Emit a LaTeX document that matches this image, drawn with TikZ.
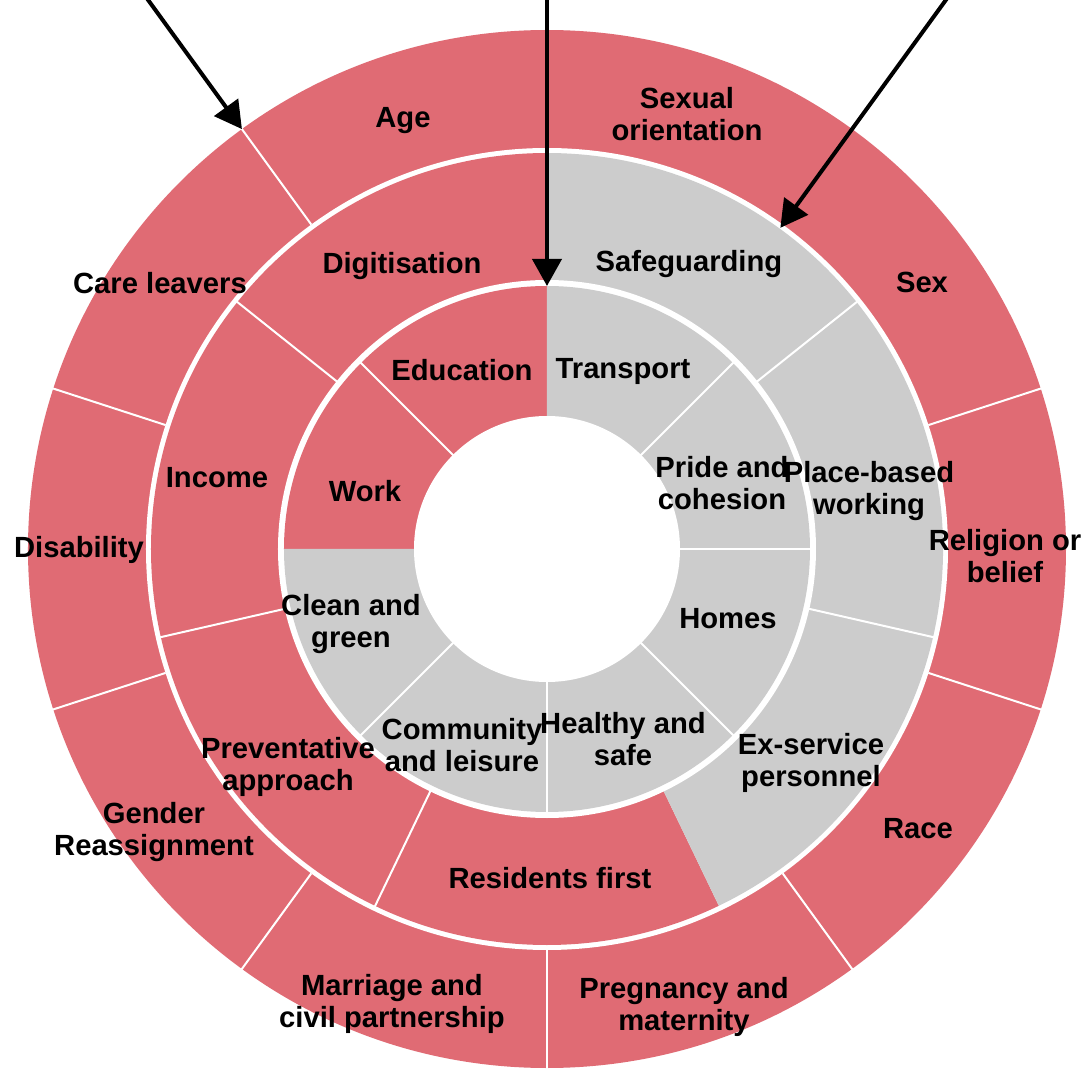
\documentclass[tikz,border=0pt]{standalone}
\usepackage{fontspec}
\setmainfont{Liberation Sans}
\usetikzlibrary{arrows.meta}
\definecolor{segred}{RGB}{224,107,116}
\definecolor{seggray}{RGB}{204,204,204}
\tikzset{
  lbl/.style={align=center, inner sep=0pt, font=\fontsize{29.2}{31.3}\selectfont\bfseries, text=black},
  divider/.style={white, line width=2pt},
  gapring/.style={fill=white},
  pointer/.style={black, line width=4pt, -{Triangle[length=27pt,width=29pt]}}
}
\begin{document}
\begin{tikzpicture}[x=1pt,y=1pt]
\useasboundingbox[fill=white] (-547pt,-527pt) rectangle (543pt,549pt);
% outer ring
\fill[segred] (0,0) circle[radius=519pt];
\fill[gapring] (0,0) circle[radius=401pt];
% middle ring
\fill[segred] (0,0) -- (90:396pt) arc[start angle=90,end angle=295.714,radius=396pt] -- cycle;
\fill[seggray] (0,0) -- (-64.286:396pt) arc[start angle=-64.286,end angle=90,radius=396pt] -- cycle;
\fill[gapring] (0,0) circle[radius=269pt];
% inner ring
\fill[segred] (0,0) -- (90:263pt) arc[start angle=90,end angle=180,radius=263pt] -- cycle;
\fill[seggray] (0,0) -- (180:263pt) arc[start angle=180,end angle=450,radius=263pt] -- cycle;
\fill[gapring] (0,0) circle[radius=133pt];
% dividers outer
\foreach \a in {18,54,90,126,162,198,234,270,306,342}
  \draw[divider] (\a:401pt) -- (\a:520pt);
% dividers middle
\foreach \a in {38.571,-12.857,244.286,192.857,141.429}
  \draw[divider] (\a:268pt) -- (\a:397pt);
% dividers inner
\foreach \a in {45,0,315,270,225,135}
  \draw[divider] (\a:132pt) -- (\a:264pt);
% labels outer
\node[lbl] (age) at (-144pt,428pt) {Age};
\node[lbl] (sexor) at (140pt,435pt) {Sexual\\orientation};
\node[lbl] (sex) at (375pt,267pt) {Sex};
\node[lbl] (relig) at (458pt,-7pt) {Religion or\\belief};
\node[lbl] (race) at (371pt,-280pt) {Race};
\node[lbl] (preg) at (137pt,-458pt) {Pregnancy and\\maternity};
\node[lbl] (marr) at (-155pt,-455pt) {Marriage and\\civil partnership};
\node[lbl] (gender) at (-393pt,-283pt) {Gender\\Reassignment};
\node[lbl] (disab) at (-468pt,-1pt) {Disability};
\node[lbl] (care) at (-387pt,266pt) {Care leavers};
% labels middle
\node[lbl] (digit) at (-145pt,283pt) {Digitisation};
\node[lbl] (safe) at (142pt,285pt) {Safeguarding};
\node[lbl] (place) at (322pt,58pt) {Place-based\\working};
\node[lbl] (exserv) at (264pt,-214pt) {Ex-service\\personnel};
\node[lbl] (resid) at (3pt,-329pt) {Residents first};
\node[lbl] (prev) at (-259pt,-218pt) {Preventative\\approach};
\node[lbl] (income) at (-330pt,71pt) {Income};
% labels inner
\node[lbl] (educ) at (-85pt,179pt) {Education};
\node[lbl] (transp) at (76pt,178pt) {Transport};
\node[lbl] (pride) at (175pt,66pt) {Pride and\\cohesion};
\node[lbl] (homes) at (181pt,-70pt) {Homes};
\node[lbl] (healthy) at (76pt,-190pt) {Healthy and\\safe};
\node[lbl] (comm) at (-85pt,-196pt) {Community\\and leisure};
\node[lbl] (clean) at (-196pt,-75pt) {Clean and\\green};
\node[lbl] (work) at (-182pt,58pt) {Work};
% arrows
\coordinate (a1s) at (126:690pt);
\coordinate (a1e) at (126:519pt);
\coordinate (a2s) at (90:560pt);
\coordinate (a2e) at (90:263pt);
\coordinate (a3s) at (54:690pt);
\coordinate (a3e) at (54:397pt);
\draw[pointer] (a1s) -- (a1e);
\draw[pointer] (a2s) -- (a2e);
\draw[pointer] (a3s) -- (a3e);
\end{tikzpicture}
\end{document}
